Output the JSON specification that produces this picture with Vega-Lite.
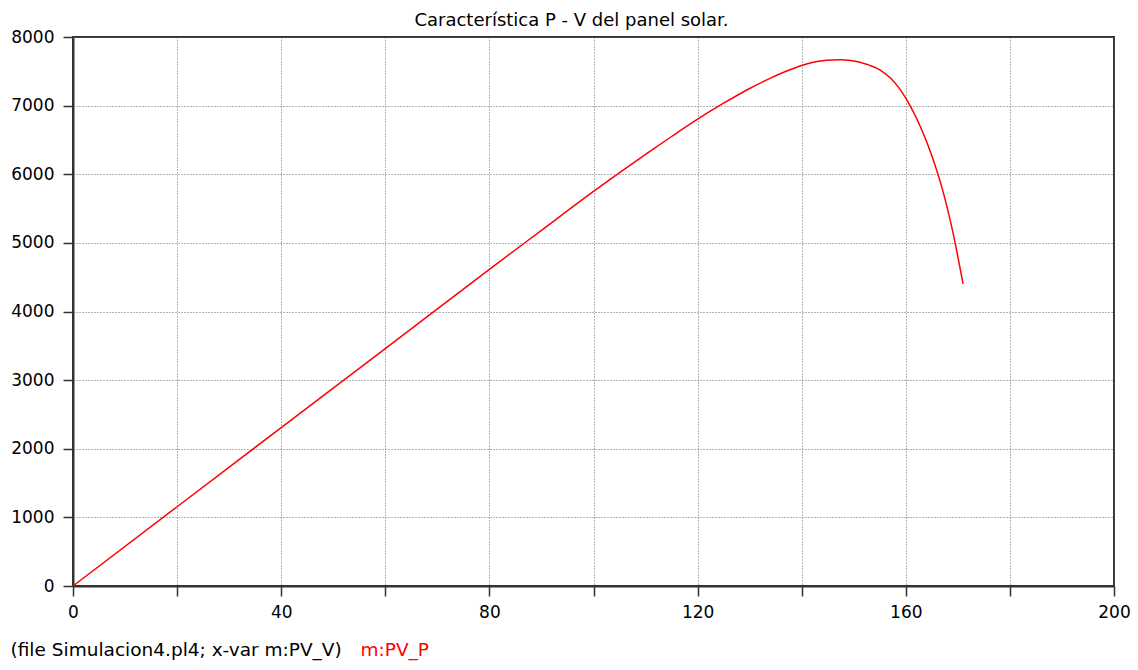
{
  "$schema": "https://vega.github.io/schema/vega-lite/v6.json",
  "width": 1041,
  "height": 549,
  "autosize": {"type": "none"},
  "padding": {"left": 73, "top": 37, "right": 24, "bottom": 84},
  "background": "white",
  "title": {
    "text": "Característica P - V del panel solar.",
    "font": "DejaVu Sans",
    "fontSize": 18,
    "fontWeight": "normal",
    "color": "#000000",
    "anchor": "middle",
    "dx": -22,
    "offset": 11,
    "dy": 13
  },
  "data": {
    "values": [
      {"V": 0, "P": 0, "s": "m:PV_P"},
      {"V": 20, "P": 1155, "s": "m:PV_P"},
      {"V": 40, "P": 2308, "s": "m:PV_P"},
      {"V": 60, "P": 3460, "s": "m:PV_P"},
      {"V": 80, "P": 4615, "s": "m:PV_P"},
      {"V": 90, "P": 5183, "s": "m:PV_P"},
      {"V": 100, "P": 5750, "s": "m:PV_P"},
      {"V": 110, "P": 6290, "s": "m:PV_P"},
      {"V": 115, "P": 6550, "s": "m:PV_P"},
      {"V": 120, "P": 6803, "s": "m:PV_P"},
      {"V": 125, "P": 7035, "s": "m:PV_P"},
      {"V": 130, "P": 7250, "s": "m:PV_P"},
      {"V": 134, "P": 7400, "s": "m:PV_P"},
      {"V": 137, "P": 7500, "s": "m:PV_P"},
      {"V": 140, "P": 7585, "s": "m:PV_P"},
      {"V": 142, "P": 7628, "s": "m:PV_P"},
      {"V": 144, "P": 7655, "s": "m:PV_P"},
      {"V": 146, "P": 7666, "s": "m:PV_P"},
      {"V": 147.5, "P": 7669, "s": "m:PV_P"},
      {"V": 149, "P": 7662, "s": "m:PV_P"},
      {"V": 151, "P": 7637, "s": "m:PV_P"},
      {"V": 153, "P": 7590, "s": "m:PV_P"},
      {"V": 155, "P": 7522, "s": "m:PV_P"},
      {"V": 157, "P": 7405, "s": "m:PV_P"},
      {"V": 159, "P": 7225, "s": "m:PV_P"},
      {"V": 161, "P": 6975, "s": "m:PV_P"},
      {"V": 163, "P": 6660, "s": "m:PV_P"},
      {"V": 165, "P": 6270, "s": "m:PV_P"},
      {"V": 167, "P": 5790, "s": "m:PV_P"},
      {"V": 169, "P": 5170, "s": "m:PV_P"},
      {"V": 171, "P": 4402, "s": "m:PV_P"}
    ]
  },
  "mark": {"type": "line", "strokeWidth": 1.5, "interpolate": "monotone"},
  "encoding": {
    "x": {
      "field": "V",
      "type": "quantitative",
      "scale": {"domain": [0, 200], "nice": false, "zero": false},
      "axis": {
        "values": [0, 20, 40, 60, 80, 100, 120, 140, 160, 180, 200],
        "labelExpr": "datum.value % 40 === 0 ? datum.label : ''",
        "title": "(file Simulacion4.pl4; x-var m:PV_V)",
        "titleAnchor": "start",
        "titleAlign": "left",
        "titleX": -63,
        "titleY": 69,
        "titleBaseline": "alphabetic",
        "titleFont": "DejaVu Sans",
        "titleFontSize": 18.5,
        "titleFontWeight": "normal",
        "titleColor": "#000000",
        "labelFont": "DejaVu Sans",
        "labelFontSize": 17,
        "labelColor": "#000000",
        "labelPadding": 8,
        "labelFlush": false,
        "tickSize": 10,
        "tickColor": "#333333",
        "tickWidth": 1.5,
        "domainColor": "#333333",
        "domainWidth": 2,
        "gridColor": "#666666",
        "gridDash": [1, 2],
        "gridWidth": 1
      }
    },
    "y": {
      "field": "P",
      "type": "quantitative",
      "scale": {"domain": [0, 8000], "nice": false},
      "axis": {
        "values": [0, 1000, 2000, 3000, 4000, 5000, 6000, 7000, 8000],
        "format": "d",
        "title": null,
        "labelFont": "DejaVu Sans",
        "labelFontSize": 17,
        "labelColor": "#000000",
        "labelPadding": 9,
        "labelFlush": false,
        "tickSize": 10,
        "tickColor": "#333333",
        "tickWidth": 1.5,
        "domainColor": "#333333",
        "domainWidth": 2,
        "gridColor": "#666666",
        "gridDash": [1, 2],
        "gridWidth": 1
      }
    },
    "color": {
      "field": "s",
      "type": "nominal",
      "scale": {"range": ["#ff0000"]},
      "legend": {
        "orient": "none",
        "legendX": 269,
        "legendY": 604,
        "title": null,
        "symbolSize": 0,
        "symbolStrokeWidth": 0,
        "symbolOpacity": 0,
        "labelOffset": 0,
        "padding": 0,
        "labelFont": "DejaVu Sans",
        "labelFontSize": 18.5,
        "labelColor": "#ff0000"
      }
    }
  },
  "config": {
    "view": {"stroke": "#333333", "strokeWidth": 2}
  }
}
